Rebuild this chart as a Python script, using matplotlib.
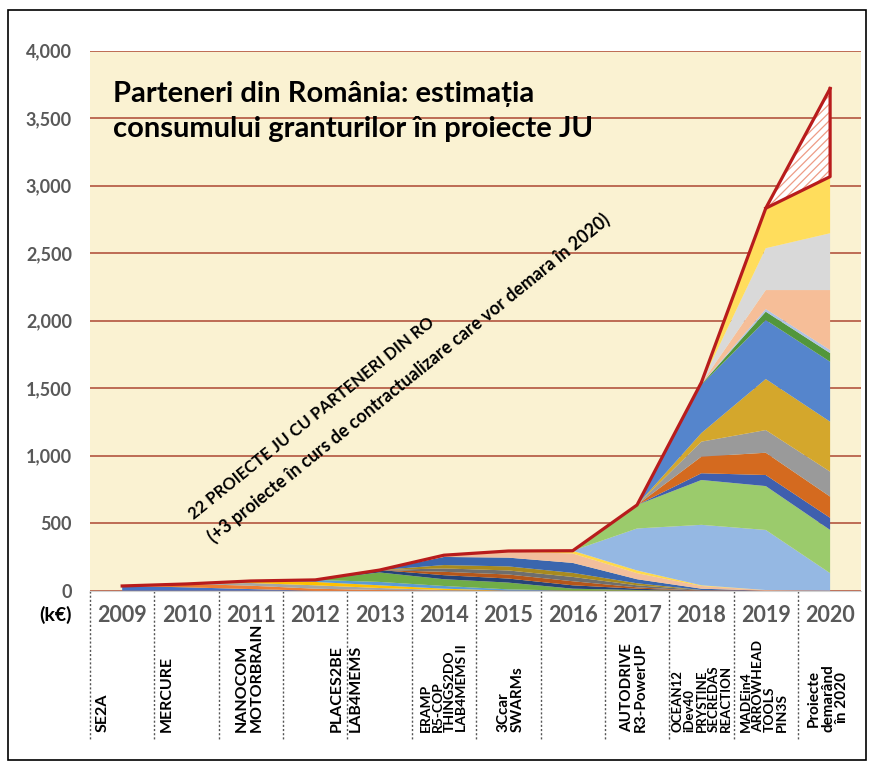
import matplotlib.pyplot as plt
import matplotlib.transforms as mtransforms
from matplotlib.patches import Rectangle
import numpy as np

plt.rcParams['font.family'] = ['Lato', 'DejaVu Sans']
plt.rcParams['hatch.linewidth'] = 0.9
plt.rcParams['hatch.color'] = '#EE9C86'

years = ['2009', '2010', '2011', '2012', '2013', '2014',
         '2015', '2016', '2017', '2018', '2019', '2020']
project_labels = ['SE2A', 'MERCURE', 'NANOCOM\nMOTORBRAIN', 'PLACES2BE', 'LAB4MEMS',
                  'ERAMP\nR5-COP\nTHINGS2DO\nLAB4MEMS II', '3Ccar\nSWARMs', '',
                  'AUTODRIVE\nR3-PowerUP',
                  'OCEAN12\niDev40\nPRYSTINE\nSECREDAS\nREACTION',
                  'MADEin4\nARROWHEAD\nTOOLS\nPIN3S', 'Proiecte\ndemarând\nîn 2020']

# estimated yearly grant consumption per project (k€), stacked bottom -> top
se2a       = [35, 25, 12, 0, 0, 0, 0, 0, 0, 0, 0, 0]
mercure    = [0, 25, 25, 15, 5, 0, 0, 0, 0, 0, 0, 0]
nanocom    = [0, 0, 20, 25, 15, 5, 0, 0, 0, 0, 0, 0]
motorbrain = [0, 0, 15, 25, 20, 10, 0, 0, 0, 0, 0, 0]
places2be  = [0, 0, 0, 15, 25, 20, 10, 0, 0, 0, 0, 0]
lab4mems   = [0, 0, 0, 0, 70, 50, 50, 15, 5, 0, 0, 0]
eramp      = [0, 0, 0, 0, 18, 30, 30, 25, 10, 0, 0, 0]
r5cop      = [0, 0, 0, 0, 0, 25, 30, 30, 10, 0, 0, 0]
things2do  = [0, 0, 0, 0, 0, 25, 30, 32, 15, 5, 0, 0]
lab4mems2  = [0, 0, 0, 0, 0, 25, 30, 30, 15, 0, 0, 0]
c3car      = [0, 0, 0, 0, 0, 60, 65, 74, 30, 10, 0, 0]
swarms     = [0, 0, 0, 0, 0, 13, 44, 70, 45, 20, 5, 0]
old_extra  = [0, 0, 0, 0, 0, 0, 5, 20, 20, 5, 0, 0]
autodrive  = [0, 0, 0, 0, 0, 0, 0, 0, 311, 448, 445, 130]
r3powerup  = [0, 0, 0, 0, 0, 0, 0, 0, 174, 332, 325, 320]
ocean12    = [0, 0, 0, 0, 0, 0, 0, 0, 0, 50, 82, 90]
idev40     = [0, 0, 0, 0, 0, 0, 0, 0, 0, 123, 165, 157]
prystine   = [0, 0, 0, 0, 0, 0, 0, 0, 0, 111, 168, 185]
secredas   = [0, 0, 0, 0, 0, 0, 0, 0, 0, 64, 378, 370]
reaction   = [0, 0, 0, 0, 0, 0, 0, 0, 0, 357, 437, 444]
madein4    = [0, 0, 0, 0, 0, 0, 0, 0, 0, 5, 62, 64]
arrowhead  = [0, 0, 0, 0, 0, 0, 0, 0, 0, 3, 20, 23]
tools      = [0, 0, 0, 0, 0, 0, 0, 0, 0, 3, 140, 444]
pin3s      = [0, 0, 0, 0, 0, 0, 0, 0, 0, 2, 310, 421]
extra_2019 = [0, 0, 0, 0, 0, 0, 0, 0, 0, 5, 296, 419]
planned_2020 = [0, 0, 0, 0, 0, 0, 0, 0, 0, 0, 0, 653]

series = [se2a, mercure, nanocom, motorbrain, places2be, lab4mems, eramp, r5cop,
          things2do, lab4mems2, c3car, swarms, old_extra, autodrive, r3powerup,
          ocean12, idev40, prystine, secredas, reaction, madein4, arrowhead,
          tools, pin3s, extra_2019]
colors = ['#4472C4', '#ED7D31', '#A5A5A5', '#FFC000', '#5B9BD5', '#70AD47',
          '#264478', '#B5561A', '#6E6E6E', '#A88A1E', '#3A66AE', '#F2BE9C',
          '#FFD94A', '#95B8E3', '#9BCB6C', '#3F5FAE', '#D46A1F', '#9A9A9A',
          '#D4A72C', '#5585CC', '#52963C', '#AFC3E6', '#F6BE98', '#D9D9D9',
          '#FFDD5C']

x = np.arange(len(years))
stacked = np.array(series).sum(axis=0)
total = stacked + np.array(planned_2020)

fig = plt.figure(figsize=(8.74, 7.66), dpi=100)
ax = fig.add_axes([90 / 874, 1 - 590.7 / 766, 771 / 874, 540 / 766])
ax.set_facecolor('#FAF2D2')

ax.stackplot(x, *series, colors=colors, linewidth=0)
# projects starting in 2020: hatched wedge on top
ax.fill_between(x[-2:], stacked[-2:], total[-2:], facecolor='white',
                edgecolor='#EE9C86', hatch='////', linewidth=0)
# red outline of the total + the planned 2020 wedge
ax.plot(x, total, color='#B81C1C', lw=2.3, zorder=5)
ax.plot([x[-2], x[-1], x[-1]], [stacked[-2], stacked[-1], total[-1]],
        color='#B81C1C', lw=2.3, zorder=5)

ax.set_xlim(-0.5, 11.48)
ax.set_ylim(0, 4000)
ax.set_yticks(range(0, 4001, 500))
ax.set_yticklabels([f'{v:,}' for v in range(0, 4001, 500)])
ax.tick_params(axis='y', length=0, pad=13, labelsize=13, labelcolor='#595959')
for lab in ax.get_yticklabels():
    lab.set_fontweight('bold')
ax.set_xticks([])
ax.set_axisbelow(True)
ax.grid(axis='y', color='#B8614A', lw=1.3)
for s in ['top', 'left', 'right']:
    ax.spines[s].set_visible(False)
ax.spines['bottom'].set_color('#D0D0D0')

# table under the chart
trans = mtransforms.blended_transform_factory(ax.transData, ax.transAxes)
for i in range(len(years)):
    ax.plot([i - 0.5, i - 0.5], [0, -0.276], transform=trans, clip_on=False,
            color='#555555', lw=1, ls=(0, (1.5, 1.5)))
    ax.text(i, -0.045, years[i], transform=trans, ha='center', va='center',
            fontsize=15.5, fontweight='bold', color='#595959')

label_dx = [-0.30, -0.31, -0.02, 0.34, -0.37, 0.0, 0.03, 0, -0.05, 0.0, -0.03, -0.03]
label_fs = [11.5, 11.5, 11.5, 11.5, 11.5, 10, 11, 11, 11, 9.5, 10, 11]
label_ls = [1.0, 1.0, 1.1, 1.0, 1.0, 1.0, 1.05, 1.0, 1.0, 1.0, 0.98, 1.05]
for i, txt in enumerate(project_labels):
    if not txt:
        continue
    ax.text(i + label_dx[i], -0.262, txt, transform=trans, rotation=90,
            ha='center', va='bottom', fontsize=label_fs[i], fontweight='bold',
            linespacing=label_ls[i],
            multialignment='center' if i == 11 else 'left')

fig.text(55 / 874, 1 - 615 / 766, '(k€)', ha='center', va='center',
         fontsize=14, fontweight='bold')

# titles
fig.text(113 / 874, 1 - 101.7 / 766, 'Parteneri din România: estimația',
         ha='left', va='baseline', fontsize=21, fontweight='bold')
fig.text(113 / 874, 1 - 137.5 / 766, 'consumului granturilor în proiecte JU',
         ha='left', va='baseline', fontsize=21, fontweight='bold')

fig.text(194 / 874, 1 - 520 / 766, '22 PROIECTE JU CU PARTENERI DIN RO',
         rotation=39, rotation_mode='anchor', ha='left', va='baseline',
         fontsize=12, fontweight='bold')
fig.text(214 / 874, 1 - 544 / 766,
         '(+3 proiecte în curs de contractualizare care vor demara în 2020)',
         rotation=39, rotation_mode='anchor', ha='left', va='baseline',
         fontsize=12.8, fontweight='bold')

fig.patches.append(Rectangle((8 / 874, 1 - 760 / 766), 858 / 874, 750 / 766,
                             transform=fig.transFigure, fill=False,
                             edgecolor='black', lw=1.2))

fig.savefig('out.png', dpi=100)
